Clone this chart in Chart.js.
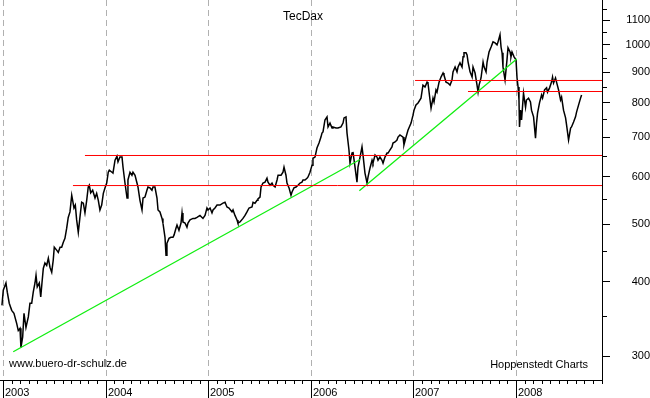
<!DOCTYPE html>
<html>
<head>
<meta charset="utf-8">
<title>TecDax</title>
<script src="https://cdn.jsdelivr.net/npm/chart.js@4.4.1/dist/chart.umd.min.js"></script>
<style>
	html, body { margin: 0; padding: 0; background: #fff; }
	#wrap { width: 650px; height: 398px; }
</style>
</head>
<body>
<div id="wrap"><canvas id="chart" width="650" height="398"></canvas></div>
<script>
(function() {
	'use strict';

	// TecDax closes, x as decimal years
	const priceDates = [
		2002.990, 2003.003, 2003.029, 2003.042, 2003.061, 2003.085, 2003.107, 2003.134, 2003.149, 2003.166,
		2003.175, 2003.192, 2003.205, 2003.224, 2003.247, 2003.263, 2003.280, 2003.295, 2003.312, 2003.322,
		2003.334, 2003.354, 2003.368, 2003.380, 2003.393, 2003.409, 2003.426, 2003.442, 2003.458, 2003.475,
		2003.490, 2003.500, 2003.523, 2003.539, 2003.556, 2003.572, 2003.588, 2003.604, 2003.621, 2003.636,
		2003.653, 2003.670, 2003.679, 2003.692, 2003.705, 2003.718, 2003.734, 2003.750, 2003.767, 2003.783,
		2003.799, 2003.816, 2003.831, 2003.841, 2003.855, 2003.874, 2003.897, 2003.913, 2003.929, 2003.945,
		2003.962, 2003.978, 2003.994, 2004.011, 2004.026, 2004.036,
		2004.062, 2004.072, 2004.092, 2004.111, 2004.121, 2004.140, 2004.160, 2004.170, 2004.189, 2004.209,
		2004.218, 2004.238, 2004.257, 2004.267, 2004.287, 2004.306, 2004.316, 2004.335, 2004.355, 2004.365,
		2004.384, 2004.403, 2004.413, 2004.433, 2004.452, 2004.462, 2004.481, 2004.501, 2004.511, 2004.530,
		2004.550, 2004.559, 2004.579, 2004.589, 2004.598, 2004.618, 2004.637, 2004.657, 2004.667, 2004.686,
		2004.696, 2004.715, 2004.735, 2004.745, 2004.754, 2004.774, 2004.793, 2004.803, 2004.823, 2004.852,
		2004.871, 2004.891, 2004.920,
		2004.949, 2004.969, 2004.988, 2004.998, 2005.018, 2005.037, 2005.047, 2005.066, 2005.086, 2005.115,
		2005.144, 2005.164, 2005.183, 2005.203, 2005.232, 2005.242, 2005.261, 2005.281, 2005.290, 2005.310,
		2005.339, 2005.359, 2005.378, 2005.398, 2005.427, 2005.437, 2005.456, 2005.476, 2005.485, 2005.505,
		2005.515, 2005.534, 2005.554, 2005.573, 2005.583, 2005.603, 2005.622, 2005.632, 2005.652, 2005.671,
		2005.681, 2005.710, 2005.729, 2005.739, 2005.758, 2005.768, 2005.788, 2005.807, 2005.817, 2005.836,
		2005.856, 2005.875, 2005.895, 2005.914, 2005.924, 2005.943, 2005.963, 2005.973, 2005.992, 2006.012,
		2006.021,
		2006.041, 2006.060, 2006.080, 2006.099, 2006.109, 2006.119, 2006.138, 2006.158, 2006.168, 2006.187,
		2006.207, 2006.216, 2006.246, 2006.265, 2006.294, 2006.314, 2006.324, 2006.343, 2006.353, 2006.372,
		2006.382, 2006.402, 2006.411, 2006.431, 2006.450, 2006.460, 2006.480, 2006.499, 2006.509, 2006.528,
		2006.548, 2006.558, 2006.577, 2006.597, 2006.606, 2006.626, 2006.645, 2006.655, 2006.674, 2006.694,
		2006.704, 2006.723, 2006.743, 2006.753, 2006.772, 2006.791, 2006.801, 2006.821, 2006.840, 2006.850,
		2006.869, 2006.899, 2006.908, 2006.928, 2006.947, 2006.977, 2006.996, 2007.006, 2007.025, 2007.045,
		2007.074, 2007.093, 2007.113, 2007.133, 2007.142, 2007.162, 2007.172, 2007.191, 2007.201, 2007.220,
		2007.230, 2007.250, 2007.269, 2007.289, 2007.298, 2007.318, 2007.337, 2007.357, 2007.376, 2007.386,
		2007.406, 2007.425, 2007.435, 2007.454, 2007.474, 2007.484, 2007.493, 2007.513, 2007.523, 2007.533,
		2007.552, 2007.572, 2007.581, 2007.601, 2007.620, 2007.630, 2007.640, 2007.659, 2007.679, 2007.689,
		2007.708, 2007.718, 2007.737, 2007.757, 2007.776, 2007.796, 2007.815, 2007.825, 2007.844, 2007.854,
		2007.864, 2007.873, 2007.893, 2007.912, 2007.922, 2007.942, 2007.951, 2007.961, 2007.981, 2008.000,
		2008.010, 2008.020, 2008.029, 2008.034, 2008.044, 2008.054, 2008.073, 2008.093, 2008.102, 2008.122,
		2008.141, 2008.151, 2008.171, 2008.190, 2008.200, 2008.210, 2008.229, 2008.249, 2008.259, 2008.278,
		2008.298, 2008.307, 2008.327, 2008.346, 2008.356, 2008.366, 2008.385, 2008.395, 2008.415, 2008.434,
		2008.444, 2008.463, 2008.483, 2008.493, 2008.512, 2008.532, 2008.541, 2008.561, 2008.580, 2008.590,
		2008.610, 2008.629, 2008.639
	];
	const priceValues = [
		365, 387, 398, 384, 368, 358, 354, 340, 331, 334,
		310, 323, 354, 335, 349, 368, 368, 384, 398, 410,
		392, 398, 377, 398, 421, 430, 426, 438, 423, 415,
		435, 457, 452, 448, 457, 457, 466, 473, 492, 513,
		524, 559, 548, 532, 538, 508, 484, 513, 544, 542,
		522, 548, 577, 581, 564, 570, 553, 563, 548, 528,
		538, 563, 575, 586, 611, 616,
		611, 609, 640, 650, 636, 648, 648, 623, 586, 553,
		593, 611, 604, 611, 604, 586, 577, 548, 528, 553,
		555, 570, 577, 575, 570, 577, 577, 553, 528, 524,
		511, 502, 475, 443, 464, 473, 475, 475, 479, 492,
		498, 488, 502, 522, 504, 502, 494, 502, 508, 511,
		511, 513, 517,
		511, 517, 532, 528, 532, 522, 528, 532, 538, 538,
		542, 544, 534, 532, 524, 528, 517, 508, 502, 504,
		511, 517, 524, 532, 534, 544, 542, 548, 551, 555,
		577, 586, 588, 597, 588, 581, 586, 581, 577, 593,
		604, 604, 611, 623, 604, 586, 575, 559, 566, 575,
		577, 581, 586, 588, 593, 593, 597, 600, 611, 628,
		645,
		648, 671, 684, 700, 711, 714, 748, 757, 728, 739,
		725, 728, 725, 725, 728, 739, 754, 757, 711, 666,
		633, 658, 661, 623, 588, 623, 648, 674, 653, 609,
		586, 600, 621, 640, 633, 653, 648, 640, 648, 640,
		633, 648, 658, 658, 666, 674, 684, 687, 692, 700,
		706, 700, 679, 700, 719, 739, 762, 777, 793, 799,
		814, 856, 850, 866, 863, 808, 783, 814, 802, 840,
		833, 866, 883, 897, 890, 866, 863, 856, 873, 901,
		918, 901, 918, 933, 918, 955, 970, 970, 962, 936,
		901, 883, 918, 897, 856, 833, 856, 880, 936, 918,
		901, 936, 973, 992, 1012, 1008, 1000, 1012, 1040, 992,
		970, 918, 873, 944, 989, 973, 955, 973, 955, 944,
		880, 850, 808, 728, 777, 748, 830, 786, 808, 814,
		802, 777, 757, 697, 739, 768, 799, 824, 814, 840,
		847, 833, 847, 866, 883, 863, 880, 866, 840, 808,
		817, 777, 754, 733, 692, 725, 728, 742, 757, 771,
		793, 814, 824
	];

	// green trend lines
	const trendStarts = [2003.100, 2006.473];
	const trendEnds = [2006.480, 2008.007];
	const trendStartValues = [305, 569];
	const trendEndValues = [642, 947];

	// red horizontal levels, running to the right edge
	const levelValues = [871.5, 835.1, 651.9, 580.3];
	const levelStarts = [2007.016, 2007.532, 2003.799, 2003.682];

	const yearTicks = [2003, 2004, 2005, 2006, 2007, 2008];
	const yearLabels = ['2003', '2004', '2005', '2006', '2007', '2008'];
	const yLabelValues = [300, 400, 500, 600, 700, 800, 900, 1000, 1100];
	const yMinorValues = [350, 450, 550, 650, 750, 850, 950, 1050, 1150];

	const X_MIN = 2002.971;
	const X_MAX = 2008.838;
	const Y_MIN = 273.4;
	const Y_MAX = 1190;
	const FONT = '"Liberation Sans", Arial, sans-serif';

	const lineStyle = {
		pointRadius: 0,
		fill: false,
		tension: 0,
		borderWidth: 1
	};

	const datasets = [];
	levelValues.forEach((v, i) => {
		datasets.push(Object.assign({}, lineStyle, {
			data: [{x: levelStarts[i], y: v}, {x: X_MAX, y: v}],
			borderColor: '#ff0000'
		}));
	});
	trendStarts.forEach((s, i) => {
		datasets.push(Object.assign({}, lineStyle, {
			data: [{x: s, y: trendStartValues[i]}, {x: trendEnds[i], y: trendEndValues[i]}],
			borderColor: '#11ee11',
			borderWidth: 1.3
		}));
	});
	datasets.push(Object.assign({}, lineStyle, {
		data: priceDates.map((d, i) => ({x: d, y: priceValues[i]})),
		borderColor: '#000000',
		borderWidth: 1.5
	}));

	/**
	 * Year grid, time axis ticks and the loose texts
	 */
	const decor = {
		id: 'decor',
		beforeDatasetsDraw(chart) {
			const {ctx, chartArea: a, scales: {x}} = chart;
			ctx.save();
			ctx.strokeStyle = '#b0b0b0';
			ctx.lineWidth = 1;
			ctx.setLineDash([6, 4]);
			yearTicks.forEach(t => {
				const px = Math.round(x.getPixelForValue(t)) + 0.5;
				ctx.beginPath();
				ctx.moveTo(px, a.top);
				ctx.lineTo(px, a.bottom);
				ctx.stroke();
			});
			ctx.restore();
		},
		afterDraw(chart) {
			const {ctx, chartArea: a, scales: {x, y}} = chart;
			ctx.save();
			ctx.strokeStyle = '#000';
			ctx.lineWidth = 1;

			// month ticks
			for (let m = 0; 2003 + m / 12 <= X_MAX; m++) {
				const px = Math.round(x.getPixelForValue(2003 + m / 12)) + 0.5;
				ctx.beginPath();
				ctx.moveTo(px, a.bottom);
				ctx.lineTo(px, a.bottom + 4);
				ctx.stroke();
			}
			// year ticks run down to the bottom
			yearTicks.forEach(t => {
				const px = Math.round(x.getPixelForValue(t)) + 0.5;
				ctx.beginPath();
				ctx.moveTo(px, a.bottom);
				ctx.lineTo(px, chart.height);
				ctx.stroke();
			});
			// minor ticks on the value axis
			yMinorValues.forEach(v => {
				const py = Math.round(y.getPixelForValue(v)) + 0.5;
				ctx.beginPath();
				ctx.moveTo(a.right, py);
				ctx.lineTo(a.right + 5, py);
				ctx.stroke();
			});

			ctx.fillStyle = '#000';
			ctx.textBaseline = 'alphabetic';
			ctx.font = '11px ' + FONT;
			ctx.textAlign = 'left';
			yearTicks.forEach((t, i) => {
				ctx.fillText(yearLabels[i], Math.round(x.getPixelForValue(t)) + 2, 396);
			});

			ctx.font = '12px ' + FONT;
			ctx.textAlign = 'center';
			ctx.fillText('TecDax', (a.left + a.right) / 2 + 2, 20);

			ctx.font = '11px ' + FONT;
			ctx.textAlign = 'left';
			ctx.fillText('www.buero-dr-schulz.de', 9, 367);
			ctx.textAlign = 'right';
			ctx.fillText('Hoppenstedt Charts', 588, 368);
			ctx.restore();
		}
	};

	new Chart(document.getElementById('chart'), {
		type: 'line',
		data: {datasets: datasets},
		plugins: [decor],
		options: {
			responsive: false,
			animation: false,
			events: [],
			layout: {padding: 0},
			plugins: {
				legend: {display: false},
				tooltip: {enabled: false},
				title: {display: false}
			},
			scales: {
				x: {
					type: 'linear',
					min: X_MIN,
					max: X_MAX,
					grid: {display: false},
					border: {display: true, color: '#000', width: 1},
					ticks: {display: false},
					afterFit: s => { s.height = 18; s.paddingLeft = 0; s.paddingRight = 0; }
				},
				y: {
					type: 'logarithmic',
					position: 'right',
					min: Y_MIN,
					max: Y_MAX,
					grid: {
						display: true,
						drawOnChartArea: false,
						drawTicks: true,
						tickLength: 8,
						tickColor: '#000',
						tickWidth: 1,
						color: '#000'
					},
					border: {display: true, color: '#000', width: 1},
					ticks: {
						autoSkip: false,
						crossAlign: 'far',
						padding: 11,
						color: '#000',
						font: {family: FONT, size: 11},
						callback: v => String(v)
					},
					afterBuildTicks: s => { s.ticks = yLabelValues.map(v => ({value: v})); },
					afterFit: s => { s.width = 48; s.paddingTop = 0; s.paddingBottom = 0; }
				}
			}
		}
	});
})();
</script>
</body>
</html>
